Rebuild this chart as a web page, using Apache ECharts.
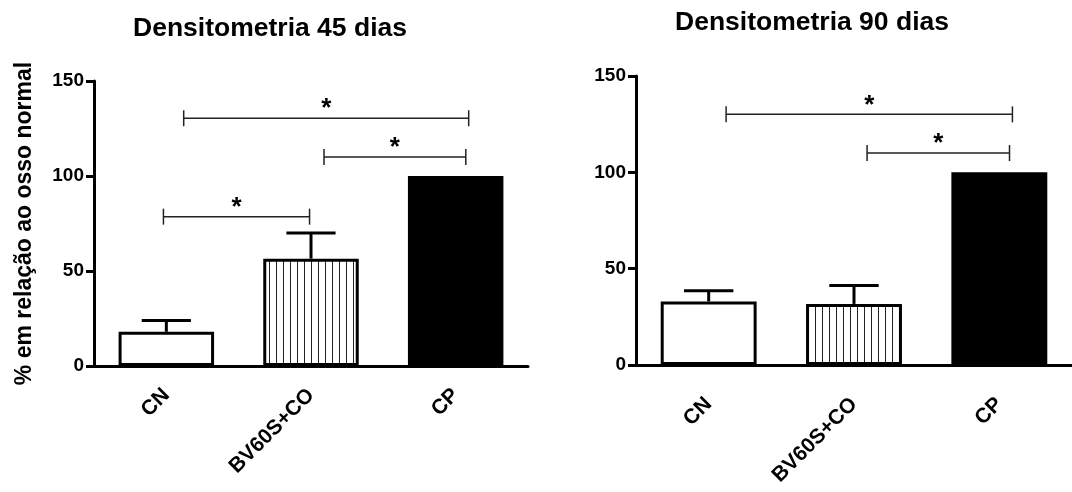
<!DOCTYPE html>
<html><head><meta charset="utf-8">
<script src="https://cdn.jsdelivr.net/npm/echarts@6/dist/echarts.min.js"></script>
<style>html,body{margin:0;padding:0;background:#fff}#c{width:1072px;height:492px}</style>
</head><body><div id="c"></div>
<script>
// ---- data ----
const categories = ['CN', 'BV60S+CO', 'CP'];
const yTicks = [0, 50, 100, 150];
const titles = ['Densitometria 45 dias', 'Densitometria 90 dias'];
const yName = '% em relação ao osso normal';
const means45 = [18, 56.5, 100];
const errs45 = [6, 13.5, 0];
const means90 = [33, 31.7, 100];
const errs90 = [5.5, 9.5, 0];
// significance brackets: [from category position, to category position, y value]
const brackets45 = [[0.12, 2.09, 130.4], [1.09, 2.07, 110], [-0.02, 0.99, 78.6]];
const brackets90 = [[0.12, 2.09, 130.1], [1.09, 2.07, 110]];
const starLabel = '*';

// ---- rendering ----
const FF = '"Liberation Sans", Arial, sans-serif';
const pc = document.createElement('canvas');
pc.width = 7; pc.height = 8;
const g = pc.getContext('2d');
g.fillStyle = '#fff'; g.fillRect(0, 0, 7, 8);
g.fillStyle = '#222'; g.fillRect(3, 0, 1, 8);
const fills = ['#fff', { image: pc, repeat: 'repeat' }, '#000'];

function errItem(params, api) {
  const x = api.value(0), lo = api.value(1), hi = api.value(2);
  if (!(hi > lo)) return { type: 'group', children: [] };
  const p0 = api.coord([x, lo]), p1 = api.coord([x, hi]);
  const hw = api.size([1, 0])[0] * 0.17;
  return { type: 'group', children: [
    { type: 'line', shape: { x1: p0[0], y1: p0[1], x2: p1[0], y2: p1[1] }, style: { stroke: '#000', lineWidth: 3 } },
    { type: 'line', shape: { x1: p1[0] - hw, y1: p1[1], x2: p1[0] + hw, y2: p1[1] }, style: { stroke: '#000', lineWidth: 3 } }
  ] };
}
function brItem(params, api) {
  const a = api.coord([api.value(0), api.value(2)]);
  const b = api.coord([api.value(1), api.value(2)]);
  const c = 8;
  const st = { stroke: '#222', lineWidth: 1.5 };
  return { type: 'group', children: [
    { type: 'line', shape: { x1: a[0], y1: a[1], x2: b[0], y2: b[1] }, style: st },
    { type: 'line', shape: { x1: a[0], y1: a[1] - c, x2: a[0], y2: a[1] + c }, style: st },
    { type: 'line', shape: { x1: b[0], y1: b[1] - c, x2: b[0], y2: b[1] + c }, style: st },
    { type: 'text', style: { text: starLabel, x: (a[0] + b[0]) / 2, y: a[1] - 9, align: 'center', verticalAlign: 'middle', fontSize: 26, fontWeight: 'bold', fontFamily: FF, fill: '#000' } }
  ] };
}

const grids = [
  { left: 94, top: 81, width: 434, height: 285 },
  { left: 636, top: 76, width: 437, height: 289 }
];
const meansAll = [means45, means90], errsAll = [errs45, errs90], brAll = [brackets45, brackets90];
const labelMargins = [26, 36];
const titlePos = [{ x: 265, y: 10 }, { x: 807, y: 4 }];

const option = { animation: false, backgroundColor: '#fff', title: [], grid: grids, xAxis: [], yAxis: [], series: [] };
for (let k = 0; k < 2; k++) {
  option.title.push({ text: titles[k], left: titlePos[k].x, top: titlePos[k].y, textAlign: 'center',
    textStyle: { fontSize: 26.5, fontWeight: 'bold', color: '#000', fontFamily: FF } });
  option.xAxis.push({ type: 'category', gridIndex: k, data: categories,
    axisLine: { onZero: false, lineStyle: { color: '#000', width: 3 } },
    axisTick: { alignWithLabel: true, length: 9, lineStyle: { color: '#000', width: 3 } },
    axisLabel: { rotate: 45, margin: labelMargins[k], fontSize: 21, fontWeight: 'bold', color: '#000', fontFamily: FF } });
  option.xAxis.push({ type: 'value', gridIndex: k, min: -0.5, max: 2.5, show: false });
  option.yAxis.push({ type: 'value', gridIndex: k, min: yTicks[0], max: yTicks[yTicks.length - 1], interval: yTicks[1] - yTicks[0],
    name: k === 0 ? yName : '', nameLocation: 'middle', nameGap: 58,
    nameTextStyle: { fontSize: 23, fontWeight: 'bold', color: '#000', fontFamily: FF },
    splitLine: { show: false },
    axisLine: { show: true, onZero: false, lineStyle: { color: '#000', width: 3 } },
    axisTick: { show: true, length: 8, lineStyle: { color: '#000', width: 3 } },
    axisLabel: { margin: 10, fontSize: 19, fontWeight: 'bold', color: '#000', fontFamily: FF } });
  option.series.push({ type: 'bar', xAxisIndex: 2 * k, yAxisIndex: k, barWidth: '66%',
    data: meansAll[k].map((v, i) => ({ value: v, itemStyle: { color: fills[i], borderColor: '#000', borderWidth: 3 } })) });
  option.series.push({ type: 'custom', xAxisIndex: 2 * k, yAxisIndex: k, renderItem: errItem, z: 5,
    data: meansAll[k].map((v, i) => [i, v, v + errsAll[k][i]]) });
  option.series.push({ type: 'custom', xAxisIndex: 2 * k + 1, yAxisIndex: k, renderItem: brItem, z: 5,
    data: brAll[k] });
}
const chart = echarts.init(document.getElementById('c'), null, { renderer: 'canvas' });
chart.setOption(option);
</script>
</body></html>
